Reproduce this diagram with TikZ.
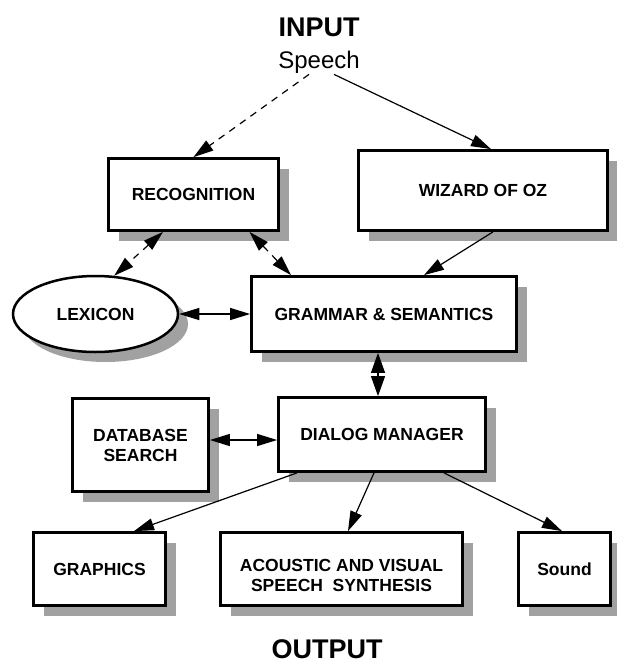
\documentclass[tikz,border=0pt]{standalone}
\usepackage{fontspec}
\setmainfont{Liberation Sans}
\usetikzlibrary{shapes.geometric}
\usetikzlibrary{shadows}
\usetikzlibrary{arrows.meta}

\begin{document}
\begin{tikzpicture}[x=1pt,y=-1pt,
    block/.style={draw=black,line width=2.8pt,fill=white,inner sep=0pt,align=center,
        font=\fontsize{17.5}{20}\selectfont\bfseries,
        drop shadow={shadow xshift=10pt,shadow yshift=-10pt,fill=black!37,opacity=1}},
    oval/.style={block,ellipse},
    title/.style={inner sep=1pt,font=\fontsize{27}{30}\selectfont\bfseries},
    link/.style={line width=1.2pt,-{Triangle[length=20pt,width=12pt]}},
    twolink/.style={line width=1.2pt,{Triangle[length=20pt,width=12pt]}-{Triangle[length=20pt,width=12pt]}},
    dashlink/.style={twolink,dash pattern=on 7pt off 6pt}]
    \useasboundingbox (0,0) rectangle (616,664);

    % input side
    \node[title] (input) at (319,27) {INPUT};
    \node[inner sep=1pt,font=\fontsize{24}{28}\selectfont] (speech) at (319,62) {Speech};
    \node[block,minimum width=170,minimum height=72] (recog) at (193.5,194.5) {RECOGNITION};
    \node[block,minimum width=249,minimum height=80] (wizard) at (483,190.5) {WIZARD OF OZ};

    % middle
    \node[oval,line width=2.5pt,minimum width=165,minimum height=76] (lexicon) at (95.5,314) {LEXICON};
    \node[block,minimum width=265,minimum height=75] (grammar) at (384,314) {GRAMMAR \& SEMANTICS};
    \node[block,minimum width=136,minimum height=93] (database) at (140.5,445) {DATABASE\\SEARCH};
    \node[block,minimum width=207,minimum height=74] (dialog) at (382,434.5) {DIALOG MANAGER};

    % output side
    \node[block,minimum width=132,minimum height=73] (graphics) at (99.5,569) {GRAPHICS};
    \node[block,minimum width=242,minimum height=73] (acoustic) at (341.5,569)
        {\raisebox{-12.4pt}[0pt][0pt]{\begin{tabular}{@{}c@{}}ACOUSTIC AND VISUAL\\SPEECH\ \ SYNTHESIS\end{tabular}}};
    \node[block,minimum width=92,minimum height=73] (sound) at (564.5,569) {Sound};
    \node[title] (output) at (327,649) {OUTPUT};

    % connectors
    \draw[link,dash pattern=on 7pt off 6pt] ([xshift=-10pt]speech.south) -- (recog.north);
    \draw[link] ([xshift=15pt]speech.south) -- ([xshift=8pt]wizard.north);
    \draw[dashlink] ([xshift=-30.5pt]recog.south) -- (lexicon.64);
    \draw[dashlink] ([xshift=56pt]recog.south) -- ([xshift=-93pt]grammar.north);
    \draw[link] ([xshift=10pt]wizard.south) -- ([xshift=40pt]grammar.north);
    \draw[twolink] (lexicon.east) -- (grammar.west);
    \draw[line width=1.2pt,{Triangle[length=20pt,width=14pt]}-{Triangle[length=20pt,width=14pt]}] ([xshift=-6pt]grammar.south) -- ([xshift=-4pt]dialog.north);
    \draw[twolink] ([yshift=5pt]database.east) -- ([yshift=-5.5pt]dialog.west);
    \draw[link] ([xshift=-85pt]dialog.south) -- ([xshift=34.5pt]graphics.north);
    \draw[link] ([xshift=-8pt]dialog.south) -- ([xshift=6.5pt]acoustic.north);
    \draw[link] ([xshift=62pt]dialog.south) -- ([xshift=-2.5pt]sound.north);
\end{tikzpicture}
\end{document}
